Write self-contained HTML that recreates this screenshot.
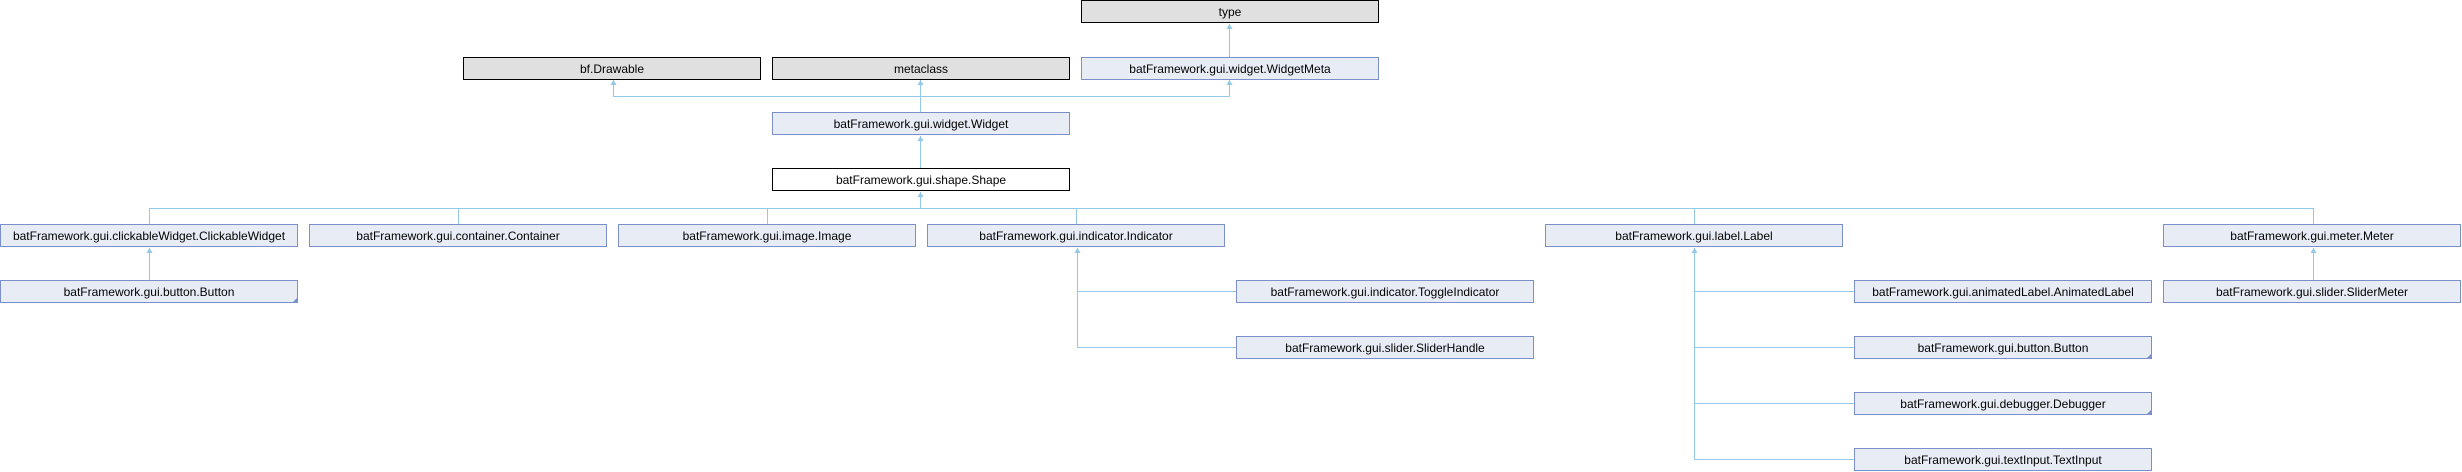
<!DOCTYPE html>
<html><head><meta charset="utf-8"><style>
html,body{margin:0;padding:0;background:#fff;}
svg{display:block;}
text{font-family:"Liberation Sans",sans-serif;font-size:12px;fill:#000;text-anchor:middle;}
.b{fill:#e8ecf5;stroke:#7b8fcc;stroke-width:1;}
.g{fill:#e0e0e0;stroke:#000;stroke-width:1;}
.w{fill:#fff;stroke:#000;stroke-width:1;}
.l{stroke:#92c8e8;stroke-width:1;fill:none;}
.a{fill:#92c8e8;}
.c{fill:#7b8fcc;}
</style></head><body>
<svg width="2462" height="472" viewBox="0 0 2462 472" xmlns="http://www.w3.org/2000/svg">
<!-- connectors -->
<g class="l">
<path d="M1229.5 57 V24"/>
<path d="M920.5 112 V80 M613.5 80 V96.5 H1229.5 V80"/>
<path d="M920.5 168 V136"/>
<path d="M920.5 192 V208.5 M149.5 224 V208.5 H2313.5 V224 M458.5 208.5 V224 M767.5 208.5 V224 M1076.5 208.5 V224 M1694.5 208.5 V224"/>
<path d="M149.5 280 V248"/>
<path d="M2313.5 280 V248"/>
<path d="M1077.5 248 V347.5 M1077.5 291.5 H1236 M1077.5 347.5 H1236"/>
<path d="M1694.5 248 V459.5 M1694.5 291.5 H1854 M1694.5 347.5 H1854 M1694.5 403.5 H1854 M1694.5 459.5 H1854"/>
</g>
<g class="a">
<polygon points="1229.5,24 1226.5,29 1232.5,29"/>
<polygon points="613.5,80 610.5,85 616.5,85"/>
<polygon points="920.5,80 917.5,85 923.5,85"/>
<polygon points="1229.5,80 1226.5,85 1232.5,85"/>
<polygon points="920.5,136 917.5,141 923.5,141"/>
<polygon points="920.5,192 917.5,197 923.5,197"/>
<polygon points="149.5,248 146.5,253 152.5,253"/>
<polygon points="2313.5,248 2310.5,253 2316.5,253"/>
<polygon points="1077.5,248 1074.5,253 1080.5,253"/>
<polygon points="1694.5,248 1691.5,253 1697.5,253"/>
</g>
<!-- boxes -->
<rect class="g" x="1081.5" y="0.5" width="297" height="22"/><text x="1230" y="16">type</text>
<rect class="g" x="463.5" y="57.5" width="297" height="22"/><text x="612" y="73">bf.Drawable</text>
<rect class="g" x="772.5" y="57.5" width="297" height="22"/><text x="921" y="73">metaclass</text>
<rect class="b" x="1081.5" y="57.5" width="297" height="22"/><text x="1230" y="73">batFramework.gui.widget.WidgetMeta</text>
<rect class="b" x="772.5" y="112.5" width="297" height="22"/><text x="921" y="128">batFramework.gui.widget.Widget</text>
<rect class="w" x="772.5" y="168.5" width="297" height="22"/><text x="921" y="184">batFramework.gui.shape.Shape</text>

<rect class="b" x="0.5" y="224.5" width="297" height="22"/><text x="149" y="240">batFramework.gui.clickableWidget.ClickableWidget</text>
<rect class="b" x="309.5" y="224.5" width="297" height="22"/><text x="458" y="240">batFramework.gui.container.Container</text>
<rect class="b" x="618.5" y="224.5" width="297" height="22"/><text x="767" y="240">batFramework.gui.image.Image</text>
<rect class="b" x="927.5" y="224.5" width="297" height="22"/><text x="1076" y="240">batFramework.gui.indicator.Indicator</text>
<rect class="b" x="1545.5" y="224.5" width="297" height="22"/><text x="1694" y="240">batFramework.gui.label.Label</text>
<rect class="b" x="2163.5" y="224.5" width="297" height="22"/><text x="2312" y="240">batFramework.gui.meter.Meter</text>

<rect class="b" x="0.5" y="280.5" width="297" height="22"/><text x="149" y="296">batFramework.gui.button.Button</text>
<polygon class="c" points="298,297 298,303 292,303"/>
<rect class="b" x="1236.5" y="280.5" width="297" height="22"/><text x="1385" y="296">batFramework.gui.indicator.ToggleIndicator</text>
<rect class="b" x="1854.5" y="280.5" width="297" height="22"/><text x="2003" y="296">batFramework.gui.animatedLabel.AnimatedLabel</text>
<rect class="b" x="2163.5" y="280.5" width="297" height="22"/><text x="2312" y="296">batFramework.gui.slider.SliderMeter</text>

<rect class="b" x="1236.5" y="336.5" width="297" height="22"/><text x="1385" y="352">batFramework.gui.slider.SliderHandle</text>
<rect class="b" x="1854.5" y="336.5" width="297" height="22"/><text x="2003" y="352">batFramework.gui.button.Button</text>
<polygon class="c" points="2152,353 2152,359 2146,359"/>
<rect class="b" x="1854.5" y="392.5" width="297" height="22"/><text x="2003" y="408">batFramework.gui.debugger.Debugger</text>
<polygon class="c" points="2152,409 2152,415 2146,415"/>
<rect class="b" x="1854.5" y="448.5" width="297" height="22"/><text x="2003" y="464">batFramework.gui.textInput.TextInput</text>
</svg>
</body></html>
